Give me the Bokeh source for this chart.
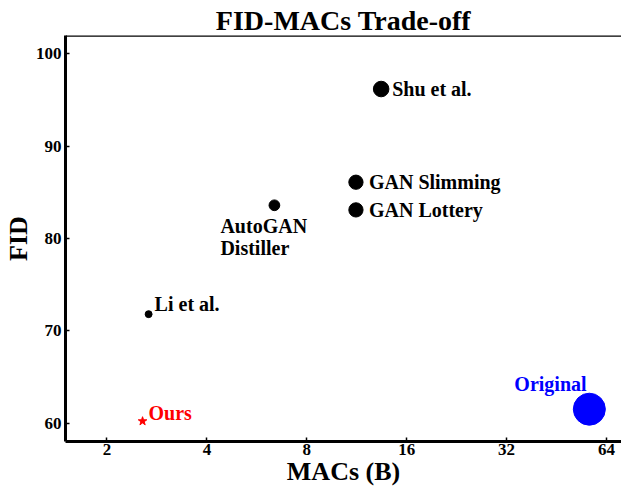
from bokeh.plotting import figure
from bokeh.models import Label, Span, FixedTicker, Range1d, Title
from bokeh.embed import file_html
from bokeh.resources import INLINE
import math

# ---- data ----
names = ["Shu et al.", "GAN Slimming", "GAN Lottery", "AutoGAN\nDistiller", "Li et al."]
macs = [13.4, 11.25, 11.25, 6.39, 2.67]
fid = [96.2, 86.1, 83.1, 83.6, 71.8]

ours_name = "Ours"
ours_macs = 2.56
ours_fid = 60.2

orig_name = "Original"
orig_macs = 56.8
orig_fid = 61.5

x_ticks = [2, 4, 8, 16, 32, 64]
x_tick_labels = ["2", "4", "8", "16", "32", "64"]
y_ticks = [60, 70, 80, 90, 100]
x_lim = (1.5, 71)
y_lim = (58, 102)

FONT = "Liberation Serif"

p = figure(width=621, height=488, x_axis_type="log",
           x_range=Range1d(*x_lim), y_range=Range1d(*y_lim),
           output_backend="svg", toolbar_location=None,
           min_border_left=62, min_border_right=0, min_border_top=35, min_border_bottom=38)
p.title = Title(text="FID-MACs Trade-off", align="center", text_font=FONT,
                text_font_size="28px", text_font_style="bold", text_color="black",
                standoff=0, offset=0)
p.outline_line_color = None
p.grid.visible = False
p.background_fill_color = "white"
p.border_fill_color = "white"

def size_of(m):
    return 4.25 * math.sqrt(m)

p.scatter(macs, fid, size=[size_of(m) for m in macs], color="black", marker="circle")
p.scatter([orig_macs], [orig_fid], size=size_of(orig_macs), color="#0000ff", marker="circle")
p.scatter([ours_macs], [ours_fid], size=9, color="#ff0000", marker="star")

# top frame line
p.add_layout(Span(location=y_lim[1], dimension="width", line_color="black", line_width=2.5))

for ax in (p.xaxis[0], p.yaxis[0]):
    ax.axis_line_width = 3
    ax.axis_line_color = "black"
    ax.major_tick_in = 4
    ax.major_tick_out = 0
    ax.major_tick_line_width = 1.5
    ax.minor_tick_line_color = None
    ax.major_label_text_font = FONT
    ax.major_label_text_font_style = "bold"
    ax.major_label_text_font_size = "17px"
    ax.major_label_text_color = "black"
    ax.axis_label_text_font = FONT
    ax.axis_label_text_font_style = "bold"
    ax.axis_label_text_font_size = "26px"
    ax.axis_label_text_color = "black"

p.xaxis.ticker = FixedTicker(ticks=x_ticks)
p.xaxis.major_label_overrides = {t: l for t, l in zip(x_ticks, x_tick_labels)}
p.yaxis.ticker = FixedTicker(ticks=y_ticks)
p.xaxis.axis_label = "MACs (B)"
p.yaxis.axis_label = "FID"
p.xaxis.axis_label_standoff = -1
p.yaxis.axis_label_standoff = 0
p.xaxis.major_label_standoff = 2
p.yaxis.major_label_standoff = 4

# label placement (screen offsets, style only; positive y_offset = up)
offsets = {
    "Shu et al.": (11, 0, "middle"),
    "GAN Slimming": (13, 0, "middle"),
    "GAN Lottery": (13, 0, "middle"),
    "AutoGAN\nDistiller": (-54, -10, "top"),
    "Li et al.": (6, 10, "middle"),
}
for n, m, f in zip(names, macs, fid):
    dx, dy, bl = offsets[n]
    p.add_layout(Label(x=m, y=f, text=n, x_offset=dx, y_offset=dy,
                       text_baseline=bl, text_align="left", text_font=FONT,
                       text_font_style="bold", text_font_size="20px",
                       text_color="black", text_line_height=1.0))

p.add_layout(Label(x=ours_macs, y=ours_fid, text=ours_name, x_offset=6, y_offset=8,
                   text_baseline="middle", text_font=FONT, text_font_style="bold",
                   text_font_size="20px", text_color="#ff0000"))
p.add_layout(Label(x=orig_macs, y=orig_fid, text=orig_name, x_offset=-75, y_offset=25,
                   text_baseline="middle", text_font=FONT, text_font_style="bold",
                   text_font_size="20px", text_color="#0000ff"))

open("out.html", "w").write(file_html(p, INLINE))
